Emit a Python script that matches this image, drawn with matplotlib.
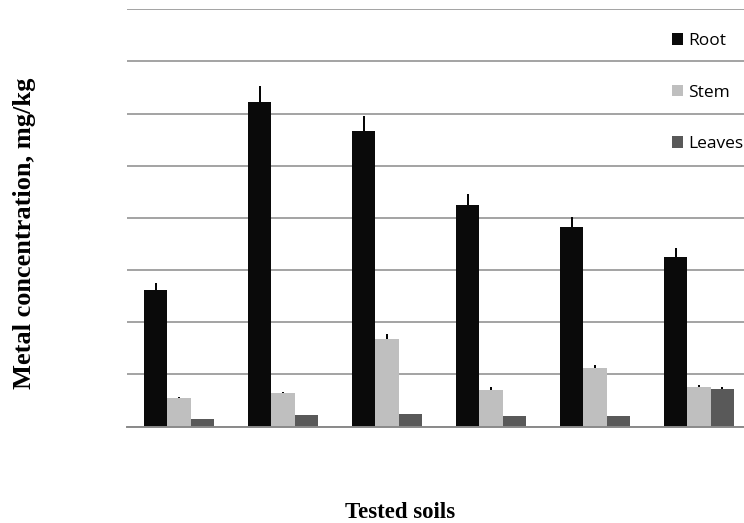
import numpy as np
import matplotlib
matplotlib.use("Agg")
import matplotlib.pyplot as plt
from matplotlib.patches import Patch

# Mean metal concentration per plant part for each tested soil (upper error only)
soils = ["S1", "S2", "S3", "S4", "S5", "S6"]
root = [2.61, 6.22, 5.66, 4.24, 3.83, 3.26]
stem = [0.54, 0.64, 1.68, 0.70, 1.12, 0.76]
leaves = [0.14, 0.22, 0.24, 0.20, 0.20, 0.72]
root_err = [0.14, 0.31, 0.29, 0.22, 0.19, 0.16]
stem_err = [0.03, 0.03, 0.09, 0.05, 0.06, 0.04]
leaves_err = [0.01, 0.01, 0.01, 0.01, 0.01, 0.04]

series = [
    ("Root", root, root_err, "#0a0a0a"),
    ("Stem", stem, stem_err, "#bfbfbf"),
    ("Leaves", leaves, leaves_err, "#595959"),
]

fig = plt.figure(figsize=(7.44, 5.23), dpi=100)
# plot area runs a little past the right edge of the figure
ax = fig.add_axes([127 / 744, 96.4 / 523, 624 / 744, 417.4 / 523])

x = np.arange(len(soils))
w = 1 / 4.5
for i, (name, vals, err, col) in enumerate(series):
    pos = x + (i - 1) * w
    ax.bar(pos, vals, width=w, color=col, zorder=2)
    ax.errorbar(pos, vals, yerr=[np.zeros(len(err)), err], fmt="none",
                ecolor="black", elinewidth=1.4, capsize=0, zorder=3)

ax.set_xlim(-0.5, len(soils) - 0.5)
ax.set_ylim(0, 8)
ax.set_yticks(np.arange(0, 9, 1))
ax.yaxis.grid(True, color="#8a8a8a", linewidth=1.1, zorder=0)
ax.set_axisbelow(True)
ax.tick_params(left=False, bottom=False, labelleft=False, labelbottom=False)
for s in ["top", "right", "left"]:
    ax.spines[s].set_visible(False)
ax.spines["bottom"].set_color("#8a8a8a")
ax.spines["bottom"].set_linewidth(1.4)

handles = [Patch(facecolor=c, label=n) for n, _, _, c in series]
fig.legend(handles=handles, loc="upper left", bbox_to_anchor=(672 / 744, 1 - 33 / 523),
           frameon=False, prop={"family": "Open Sans", "size": 12.5},
           handlelength=0.65, handleheight=0.65, handletextpad=0.3,
           labelspacing=2.05, borderpad=0, borderaxespad=0)

fig.text(24.5 / 744, 1 - 233 / 523, "Metal concentration, mg/kg", rotation=90,
         ha="center", va="center", family="Liberation Serif",
         fontweight="bold", fontsize=19)
fig.text(400 / 744, 1 - 513 / 523, "Tested soils", ha="center", va="center",
         family="Liberation Serif", fontweight="bold", fontsize=16.5)

fig.savefig("out.png", dpi=100)
